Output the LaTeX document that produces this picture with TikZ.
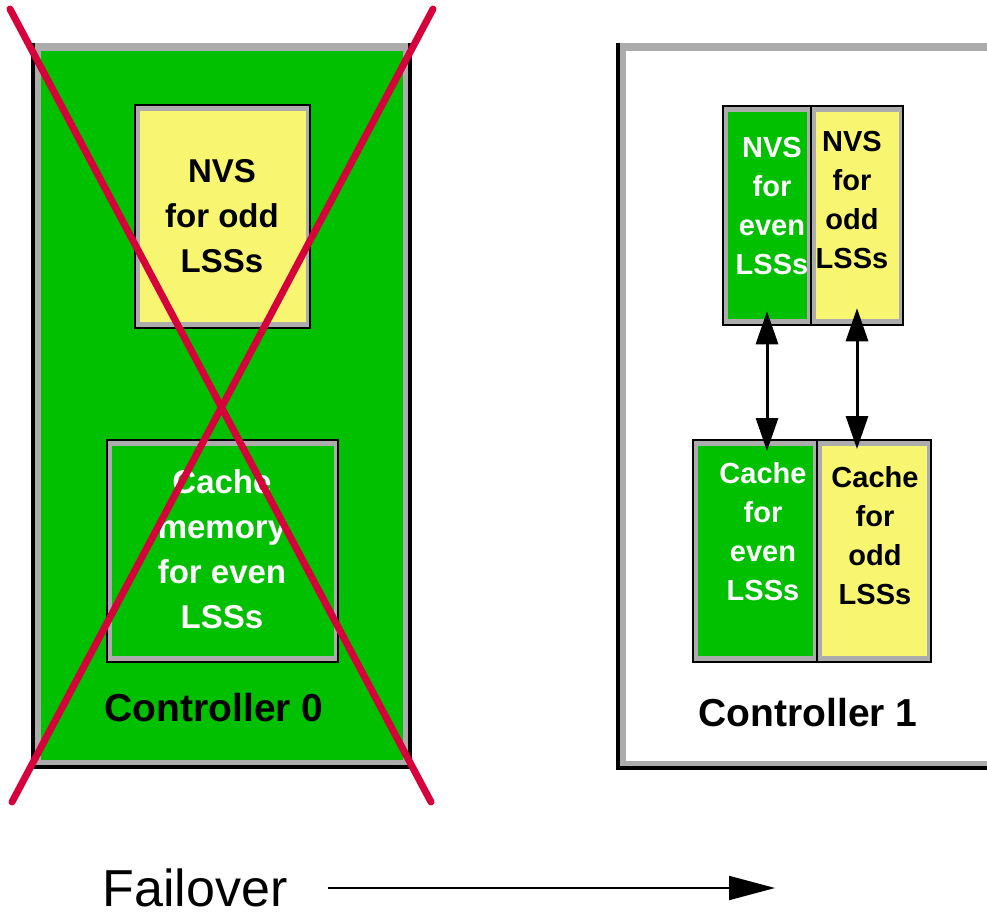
\documentclass[tikz,border=0pt]{standalone}
\usepackage{fontspec}
\setmainfont{Liberation Sans}
\usetikzlibrary{arrows.meta,calc}
\definecolor{ctrlgreen}{RGB}{0,192,0}
\definecolor{nvsyellow}{RGB}{248,246,112}
\definecolor{framegray}{RGB}{172,172,172}
\definecolor{crossred}{RGB}{214,0,58}
\tikzset{
  ctrl/.style={rectangle, inner sep=0pt, fill=framegray, draw=none,
    path picture={\fill[#1] ([shift={(8pt,-8pt)}]path picture bounding box.north west) rectangle ([shift={(-7pt,7pt)}]path picture bounding box.south east);}},
  panel/.style={rectangle, inner sep=0pt, fill=framegray, draw=black, line width=2.5pt,
    path picture={\fill[#1] ([shift={(5pt,-6pt)}]path picture bounding box.north west) rectangle ([shift={(-4pt,6pt)}]path picture bounding box.south east);}},
  biglbl/.style={align=center, inner sep=0pt, font=\bfseries\fontsize{33}{45}\selectfont},
  smlbl/.style={align=center, inner sep=0pt, font=\bfseries\fontsize{29}{39}\selectfont},
  ctrllbl/.style={inner sep=0pt, font=\bfseries\fontsize{39}{45}\selectfont},
  shadowline/.style={draw=black, line width=3.5pt},
  link/.style={draw=black, line width=3pt, {Triangle[length=33pt,width=22pt]}-{Triangle[length=33pt,width=22pt]}},
  cross/.style={draw=crossred, line width=7pt, line cap=round},
}
\begin{document}
\begin{tikzpicture}[x=1pt,y=-1pt]
\useasboundingbox (0,0) rectangle (987,917);
% Controller 0
\node[ctrl=ctrlgreen, minimum width=377pt, minimum height=724pt] (c0) at (221.5,405) {};
\draw[shadowline] (c0.north west) -- (c0.south west) -- (c0.south east) -- (c0.north east);
% Controller 1
\node[ctrl=white, minimum width=382pt, minimum height=725pt] (c1) at (809,405.5) {};
\draw[shadowline] (c1.north west) -- (c1.south west) -- (c1.south east) -- (c1.north east);

% Controller 0 boxes
\node[panel=nvsyellow, minimum width=175pt, minimum height=223pt] (nvs0) at (222.5,216.5) {};
\node[panel=ctrlgreen, line width=2pt, minimum width=231pt, minimum height=222pt] (cache0) at (222.5,551) {};
\node[biglbl] (nvs0t) at (222,216) {NVS\\for odd\\LSSs};
\node[biglbl, text=white] (cache0t) at (222,549) {Cache\\memory\\for even\\LSSs};
\node[ctrllbl] (c0t) at (214,708) {Controller 0};

% Controller 1 boxes
\node[panel=ctrlgreen, minimum width=88pt, minimum height=219pt] (nvsE) at (767,215.5) {};
\node[panel=nvsyellow, minimum width=92pt, minimum height=219pt] (nvsO) at (857,215.5) {};
\node[panel=ctrlgreen, line width=2pt, minimum width=124pt, minimum height=222pt] (cacheE) at (755,551) {};
\node[panel=nvsyellow, line width=2pt, minimum width=114pt, minimum height=222pt] (cacheO) at (874,551) {};
\node[smlbl, text=white] (nvsEt) at (772,206) {NVS\\for\\even\\LSSs};
\node[smlbl] (nvsOt) at (852,200) {NVS\\for\\odd\\LSSs};
\node[smlbl, text=white] (cacheEt) at (763,532) {Cache\\for\\even\\LSSs};
\node[smlbl] (cacheOt) at (875,536) {Cache\\for\\odd\\LSSs};
\node[ctrllbl] (c1t) at (808,713) {Controller 1};

% links
\draw[link] ([yshift=15pt]nvsE.south) -- ([yshift=-12pt]nvsE.south |- cacheE.north);
\draw[link] ([yshift=18pt]nvsO.south) -- ([yshift=-10pt]nvsO.south |- cacheO.north);

% red cross
\coordinate (xa) at (10,9);
\coordinate (xb) at (431,802);
\coordinate (xc) at (433,9);
\coordinate (xd) at (12,802);
\draw[cross] (xa) -- (xb);
\draw[cross] (xc) -- (xd);

% failover
\node[inner sep=0pt, font=\fontsize{52}{60}\selectfont] (fail) at (195,888) {Failover};
\coordinate (fend) at (775,888);
\draw[line width=2pt, -{Triangle[length=46pt,width=24pt]}] ([xshift=40pt]fail.east) -- (fend);
\end{tikzpicture}
\end{document}
